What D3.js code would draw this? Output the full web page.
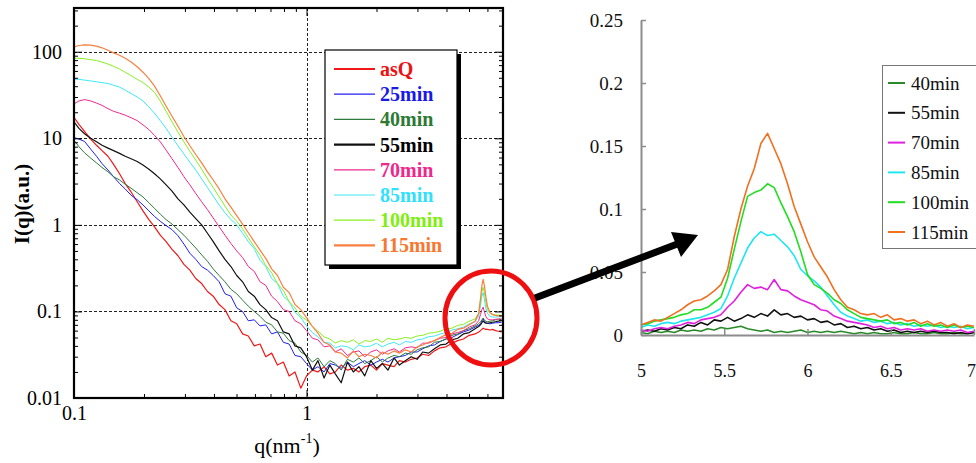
<!DOCTYPE html>
<html><head><meta charset="utf-8">
<script src="https://cdn.jsdelivr.net/npm/d3@7"></script>
<style>
html,body{margin:0;padding:0;background:#fff;} svg{display:block;}
svg text{font-family:"Liberation Serif","DejaVu Serif","Liberation Sans",Arimo,Arial,sans-serif;}
</style>
</head><body>
<svg id="c" width="976" height="463"></svg>
<script>
// ---------- LEFT PANEL DATA (log-log SAXS curves) ----------
const qL = [0.100,0.105,0.111,0.118,0.125,0.132,0.140,0.148,0.157,0.166,0.176,0.187,0.198,0.210,0.222,0.235,0.249,0.264,0.280,0.297,0.315,0.334,0.354,0.375,0.397,0.421,0.446,0.473,0.501,0.531,0.562,0.596,0.631,0.668,0.708,0.750,0.795,0.842,0.892,0.945,
  1.00,1.06,1.12,1.19,1.26,1.33,1.41,1.50,1.59,1.68,1.78,1.89,2.00,2.12,2.24,2.38,2.51,2.66,2.82,2.99,3.16,3.35,3.55,3.76,3.98,4.22,4.47,4.73,5.01,5.31,5.50,5.60,5.68,5.75,5.82,5.90,6.00,6.15,6.31,6.50,6.68,6.90];
const asQ = [17.5,14.5,12,9.8,8.3,7.2,6.2,5.0,3.9,3.0,2.4,1.85,1.45,1.15,0.95,0.76,0.64,0.52,0.44,0.35,0.3,0.24,0.21,0.17,0.15,0.12,0.105,0.078,0.072,0.055,0.052,0.04,0.042,0.03,0.033,0.024,0.026,0.018,0.02,0.013,
  0.018,0.021,0.02,0.023,0.019,0.02,0.024,0.021,0.022,0.02,0.023,0.024,0.021,0.025,0.024,0.023,0.027,0.026,0.028,0.029,0.032,0.031,0.035,0.038,0.039,0.043,0.046,0.048,0.053,0.055,0.058,0.06,0.062,0.064,0.063,0.062,0.062,0.061,0.062,0.06,0.059,0.058];
const m25 = [10.2,9.8,9.2,7.5,6.2,5.1,4.3,3.6,3.0,2.6,2.2,1.95,1.7,1.45,1.25,1.1,0.98,0.88,0.75,0.6,0.47,0.4,0.33,0.3,0.26,0.22,0.16,0.15,0.11,0.1,0.078,0.08,0.068,0.07,0.055,0.058,0.044,0.042,0.031,0.03,
  0.025,0.021,0.023,0.02,0.025,0.024,0.022,0.026,0.023,0.025,0.027,0.024,0.026,0.028,0.026,0.029,0.03,0.031,0.034,0.034,0.037,0.04,0.041,0.045,0.048,0.05,0.054,0.058,0.061,0.066,0.069,0.072,0.078,0.082,0.078,0.074,0.073,0.072,0.073,0.074,0.074,0.075];
const m40 = [9.5,8.0,6.8,5.9,5.2,4.6,4.1,3.6,3.3,2.95,2.65,2.35,2.1,1.8,1.55,1.33,1.15,1.02,0.88,0.76,0.64,0.54,0.45,0.38,0.31,0.26,0.22,0.18,0.16,0.135,0.115,0.1,0.088,0.075,0.07,0.058,0.056,0.046,0.043,0.034,
  0.031,0.026,0.029,0.023,0.027,0.025,0.021,0.028,0.026,0.029,0.025,0.027,0.03,0.026,0.029,0.031,0.03,0.033,0.032,0.036,0.038,0.039,0.044,0.045,0.048,0.053,0.055,0.06,0.063,0.068,0.072,0.076,0.08,0.084,0.08,0.077,0.076,0.077,0.078,0.08,0.08,0.081];
const m55 = [15.5,13,11.3,10,9.1,8.3,7.7,7.2,6.7,6.2,5.8,5.4,4.9,4.4,3.9,3.4,2.9,2.45,2.0,1.7,1.4,1.18,1.0,0.8,0.64,0.5,0.4,0.33,0.26,0.22,0.17,0.15,0.12,0.105,0.085,0.078,0.058,0.055,0.04,0.038,
  0.03,0.021,0.027,0.017,0.024,0.019,0.015,0.026,0.02,0.023,0.018,0.027,0.022,0.025,0.021,0.029,0.024,0.027,0.03,0.028,0.034,0.033,0.037,0.041,0.042,0.047,0.049,0.055,0.057,0.063,0.067,0.07,0.074,0.078,0.075,0.073,0.073,0.074,0.075,0.076,0.077,0.078];
const m70 = [25,27,28,27,25.5,24,22,20.5,19.5,18.5,17.3,16,14.3,12.6,10.8,9.1,7.3,5.8,4.6,3.6,2.9,2.3,1.85,1.5,1.2,0.95,0.76,0.61,0.5,0.42,0.33,0.29,0.22,0.2,0.15,0.13,0.105,0.1,0.078,0.072,
  0.06,0.049,0.047,0.039,0.04,0.034,0.037,0.031,0.034,0.035,0.03,0.034,0.036,0.032,0.035,0.037,0.034,0.038,0.039,0.038,0.043,0.043,0.046,0.049,0.05,0.055,0.057,0.06,0.066,0.07,0.078,0.092,0.105,0.112,0.1,0.088,0.082,0.08,0.08,0.081,0.082,0.082];
const m85 = [48,48,47,46,45,44,43,41,39,36,33,30,27,23,19.5,16,13,10.3,8.2,6.6,5.3,4.3,3.4,2.7,2.15,1.7,1.38,1.15,1.0,0.8,0.64,0.53,0.39,0.33,0.24,0.21,0.15,0.13,0.098,0.085,
  0.068,0.057,0.051,0.044,0.043,0.038,0.04,0.039,0.036,0.041,0.039,0.04,0.043,0.039,0.042,0.044,0.041,0.045,0.044,0.047,0.048,0.051,0.052,0.055,0.057,0.061,0.063,0.066,0.072,0.076,0.088,0.115,0.15,0.165,0.14,0.11,0.095,0.088,0.086,0.086,0.087,0.087];
const m100 = [84,84,83,81,79,76,72,68,63,58,53,48,44,39,34,27,20.5,15.5,11.8,9.1,7.1,5.6,4.4,3.4,2.7,2.1,1.65,1.3,1.1,0.9,0.71,0.56,0.45,0.34,0.28,0.21,0.175,0.13,0.11,0.088,
  0.08,0.067,0.059,0.051,0.048,0.043,0.046,0.044,0.047,0.042,0.046,0.045,0.048,0.044,0.049,0.047,0.048,0.05,0.049,0.052,0.053,0.056,0.057,0.059,0.063,0.064,0.069,0.071,0.077,0.082,0.095,0.13,0.17,0.19,0.165,0.13,0.105,0.095,0.092,0.091,0.091,0.09];
const m115 = [114,118,120,119,116,111,104,97,91,84,76,67,58,49,40,31,23.5,18,13.8,10.5,8.2,6.5,5.2,4.1,3.3,2.6,2.0,1.6,1.28,1.02,0.81,0.64,0.51,0.41,0.31,0.26,0.19,0.165,0.12,0.105,
  0.085,0.067,0.056,0.044,0.041,0.034,0.033,0.029,0.035,0.03,0.032,0.031,0.029,0.034,0.032,0.035,0.033,0.036,0.034,0.039,0.041,0.044,0.046,0.05,0.054,0.056,0.062,0.064,0.07,0.077,0.095,0.14,0.2,0.235,0.2,0.15,0.115,0.097,0.092,0.09,0.089,0.088];
const namesL = ["asQ","25min","40min","55min","70min","85min","100min","115min"];
const xTickValsL = [0.1, 1];
const xTickLabsL = ["0.1", "1"];
const yTickValsL = [0.01, 0.1, 1, 10, 100];
const yTickLabsL = ["0.01", "0.1", "1", "10", "100"];

// ---------- RIGHT PANEL DATA (linear zoom on the peak) ----------
const qR = [5.00,5.04,5.08,5.12,5.16,5.20,5.24,5.28,5.32,5.36,5.40,5.44,5.48,5.52,5.56,5.60,5.64,5.68,5.72,5.76,5.80,5.84,5.88,5.92,5.96,6.00,6.04,6.08,6.12,6.16,6.20,6.24,6.28,6.32,6.36,6.40,6.44,6.48,6.52,6.56,6.60,6.64,6.68,6.72,6.76,6.80,6.84,6.88,6.92,6.96,7.00];
const r40 = [.002,.001,.003,.002,.003,.002,.004,.003,.004,.003,.005,.004,.006,.005,.006,.007,.005,.004,.003,.004,.002,.003,.002,.003,.004,.002,.003,.002,.003,.002,.003,.002,.001,.002,.001,.002,.001,.001,.002,.001,.001,.002,.001,.001,.002,.001,.001,.002,.001,.001,.002];
const r55 = [.003,.004,.003,.005,.004,.006,.005,.008,.007,.01,.008,.012,.011,.014,.011,.013,.016,.014,.017,.015,.02,.016,.017,.014,.015,.012,.013,.01,.011,.008,.009,.006,.007,.005,.006,.004,.005,.003,.004,.002,.003,.002,.003,.002,.003,.002,.002,.001,.002,.001,.002];
const r70 = [.004,.003,.005,.006,.005,.007,.008,.01,.009,.012,.013,.014,.016,.022,.027,.034,.04,.037,.038,.036,.044,.036,.035,.031,.028,.026,.024,.02,.019,.015,.013,.011,.01,.009,.008,.006,.007,.005,.006,.004,.005,.004,.005,.003,.004,.003,.004,.003,.004,.002,.003];
const r85 = [.006,.008,.007,.009,.01,.009,.011,.012,.013,.014,.016,.018,.021,.031,.045,.057,.069,.077,.082,.079,.08,.075,.07,.063,.052,.047,.043,.038,.031,.024,.018,.015,.013,.011,.012,.01,.011,.009,.01,.008,.009,.007,.008,.007,.008,.006,.007,.006,.007,.005,.006];
const r100 = [.008,.009,.011,.012,.013,.014,.016,.017,.02,.02,.022,.026,.03,.045,.068,.09,.11,.113,.115,.12,.117,.105,.094,.082,.066,.048,.04,.037,.033,.028,.025,.02,.017,.014,.013,.012,.011,.012,.009,.01,.008,.01,.007,.009,.007,.008,.006,.008,.006,.007,.006];
const r115 = [.008,.01,.012,.011,.014,.017,.02,.024,.027,.028,.031,.035,.04,.052,.078,.1,.118,.132,.152,.16,.148,.136,.12,.102,.088,.074,.062,.054,.046,.036,.028,.022,.02,.017,.016,.017,.014,.016,.012,.013,.011,.012,.009,.011,.008,.01,.007,.009,.006,.008,.007];
const namesR = ["40min","55min","70min","85min","100min","115min"];
const xTickValsR = [5, 5.5, 6, 6.5, 7];
const xTickLabsR = ["5", "5.5", "6", "6.5", "7"];
const yTickValsR = [0, 0.05, 0.1, 0.15, 0.2, 0.25];
const yTickLabsR = ["0", "0.05", "0.1", "0.15", "0.2", "0.25"];

// ---------- STYLES ----------
const FONT = '"Liberation Serif","DejaVu Serif","Liberation Sans",Arimo,Arial,sans-serif';
const seriesL = [
  {name:namesL[0], v:asQ,  c:"#f01818", t:"#ee1111", w:1.2, lw:2.2},
  {name:namesL[1], v:m25,  c:"#2020f0", t:"#1a1ae8", w:1,   lw:1.2},
  {name:namesL[2], v:m40,  c:"#2e7a3c", t:"#2e7a34", w:1,   lw:1.2},
  {name:namesL[3], v:m55,  c:"#111111", t:"#000000", w:1.2, lw:2.2},
  {name:namesL[4], v:m70,  c:"#f0288c", t:"#f0288c", w:1,   lw:1.2},
  {name:namesL[5], v:m85,  c:"#40e8f8", t:"#30e0ff", w:1,   lw:1.2},
  {name:namesL[6], v:m100, c:"#88f020", t:"#80ee10", w:1,   lw:1.2},
  {name:namesL[7], v:m115, c:"#f88040", t:"#f87830", w:1.2, lw:2.2}
];
const seriesR = [
  {name:namesR[0], v:r40,  c:"#2a8a2a"},
  {name:namesR[1], v:r55,  c:"#111111"},
  {name:namesR[2], v:r70,  c:"#e020e0"},
  {name:namesR[3], v:r85,  c:"#20e6f0"},
  {name:namesR[4], v:r100, c:"#22dd22"},
  {name:namesR[5], v:r115, c:"#f07020"}
];

const svg = d3.select("#c");
svg.append("rect").attr("width",976).attr("height",463).attr("fill","#fff");

// ================= LEFT PANEL =================
const L = {x0:74, x1:503, y0:8, y1:398};
const xL = d3.scaleLog().domain([0.1, 7]).range([L.x0, L.x1]);
const yL = d3.scaleLog().domain([0.01, 320]).range([L.y1, L.y0]);
const defs = svg.append("defs");
defs.append("clipPath").attr("id","clipL").append("rect")
  .attr("x",L.x0).attr("y",L.y0).attr("width",L.x1-L.x0).attr("height",L.y1-L.y0);

const gGrid = svg.append("g").attr("stroke","#222").attr("stroke-width",1).attr("stroke-dasharray","3,2");
[0.1,1,10,100].forEach(v => {
  const y = Math.round(yL(v)) + 0.5;
  gGrid.append("line").attr("x1",L.x0).attr("x2",L.x1).attr("y1",y).attr("y2",y);
});
{ const x = Math.round(xL(1)) + 0.5;
  gGrid.append("line").attr("x1",x).attr("x2",x).attr("y1",L.y0).attr("y2",L.y1); }

const lineL = d3.line().x((d,i) => xL(qL[i])).y(d => yL(d));
const gCurves = svg.append("g").attr("clip-path","url(#clipL)");
seriesL.forEach(s => {
  gCurves.append("path").attr("d", lineL(s.v)).attr("fill","none")
    .attr("stroke", s.c).attr("stroke-width", s.w).attr("stroke-linejoin","round");
});

const minorX = [0.2,0.3,0.4,0.5,0.6,0.7,0.8,0.9,2,3,4,5,6];
const minorY = [];
[0.01,0.1,1,10,100].forEach(d => { for (let k=2;k<=9;k++){ if (d*k<=320) minorY.push(d*k);} });
function styleAxis(g){
  g.attr("font-family",null);
  g.select(".domain").remove();
  g.selectAll("line").attr("stroke","#000").attr("stroke-width",1);
  g.selectAll("text").style("font-family",FONT).attr("fill","#000");
}
svg.append("g").attr("transform",`translate(0,${L.y1})`)
  .call(d3.axisBottom(xL).tickValues(xTickValsL).tickFormat((d,i)=>xTickLabsL[i]).tickSizeInner(-8).tickSizeOuter(0).tickPadding(8))
  .call(styleAxis).call(g=>g.selectAll("text").attr("font-size",20));
svg.append("g").attr("transform",`translate(0,${L.y1})`)
  .call(d3.axisBottom(xL).tickValues(minorX).tickFormat("").tickSizeInner(-4).tickSizeOuter(0)).call(styleAxis);
svg.append("g").attr("transform",`translate(0,${L.y0})`)
  .call(d3.axisTop(xL).tickValues([1]).tickFormat("").tickSizeInner(-8).tickSizeOuter(0)).call(styleAxis);
svg.append("g").attr("transform",`translate(0,${L.y0})`)
  .call(d3.axisTop(xL).tickValues(minorX).tickFormat("").tickSizeInner(-4).tickSizeOuter(0)).call(styleAxis);
svg.append("g").attr("transform",`translate(${L.x0},0)`)
  .call(d3.axisLeft(yL).tickValues(yTickValsL).tickFormat((d,i)=>yTickLabsL[i]).tickSizeInner(-8).tickSizeOuter(0).tickPadding(12))
  .call(styleAxis).call(g=>g.selectAll("text").attr("font-size",20));
svg.append("g").attr("transform",`translate(${L.x0},0)`)
  .call(d3.axisLeft(yL).tickValues(minorY).tickFormat("").tickSizeInner(-4).tickSizeOuter(0)).call(styleAxis);
svg.append("g").attr("transform",`translate(${L.x1},0)`)
  .call(d3.axisRight(yL).tickValues(yTickValsL).tickFormat("").tickSizeInner(-8).tickSizeOuter(0)).call(styleAxis);
svg.append("g").attr("transform",`translate(${L.x1},0)`)
  .call(d3.axisRight(yL).tickValues(minorY).tickFormat("").tickSizeInner(-4).tickSizeOuter(0)).call(styleAxis);

svg.append("rect").attr("x",L.x0).attr("y",L.y0).attr("width",L.x1-L.x0).attr("height",L.y1-L.y0)
  .attr("fill","none").attr("stroke","#000").attr("stroke-width",2.2);

const xt = svg.append("text").attr("x",287).attr("y",453).attr("text-anchor","middle")
  .style("font-family",FONT).attr("font-size",22).attr("fill","#000");
xt.append("tspan").text("q(nm");
xt.append("tspan").attr("font-size",14).attr("dy",-10).text("-1");
xt.append("tspan").attr("dy",10).text(")");
svg.append("text").attr("transform","translate(29,204) rotate(-90)").attr("text-anchor","middle")
  .style("font-family",FONT).attr("font-size",21).attr("font-weight","bold").attr("fill","#000").text("I(q)(a.u.)");

const LG = {x:325, y:50, w:132, h:215, row0:69, dy:25.2};
svg.append("rect").attr("x",LG.x+4).attr("y",LG.y+4).attr("width",LG.w).attr("height",LG.h).attr("fill","#000");
svg.append("rect").attr("x",LG.x).attr("y",LG.y).attr("width",LG.w).attr("height",LG.h)
  .attr("fill","#fff").attr("stroke","#000").attr("stroke-width",1.2);
seriesL.forEach((s,i) => {
  const y = LG.row0 + i*LG.dy;
  svg.append("line").attr("x1",334).attr("x2",375).attr("y1",y).attr("y2",y).attr("stroke",s.c).attr("stroke-width",s.lw);
  svg.append("text").attr("x",380).attr("y",y+7).style("font-family",FONT).attr("font-size",20)
    .attr("font-weight","bold").attr("fill",s.t).text(s.name);
});

// ================= RIGHT PANEL =================
const R = {x0:641, x1:974, y0:20, y1:335};
const xR = d3.scaleLinear().domain([5,7]).range([R.x0, R.x1]);
const yR = d3.scaleLinear().domain([0,0.25]).range([R.y1, R.y0]);
const lineR = d3.line().x((d,i)=>xR(qR[i])).y(d=>yR(d));
seriesR.forEach(s => {
  svg.append("path").attr("d", lineR(s.v)).attr("fill","none").attr("stroke",s.c)
    .attr("stroke-width",1.6).attr("stroke-linejoin","round");
});
function styleR(g){
  g.attr("font-family",null);
  g.select(".domain").attr("stroke","#8c8c8c").attr("stroke-width",2);
  g.selectAll("line").attr("stroke","#8c8c8c").attr("stroke-width",1.5);
  g.selectAll("text").style("font-family",FONT).attr("fill","#111");
}
svg.append("g").attr("transform",`translate(${R.x0},0)`)
  .call(d3.axisLeft(yR).tickValues(yTickValsR).tickFormat((d,i)=>yTickLabsR[i]).tickSizeInner(-5).tickSizeOuter(0).tickPadding(18))
  .call(styleR).call(g=>g.selectAll("text").attr("font-size",19));
svg.append("g").attr("transform",`translate(0,${R.y1})`)
  .call(d3.axisBottom(xR).tickValues(xTickValsR).tickFormat((d,i)=>xTickLabsR[i]).tickSizeInner(-6).tickSizeOuter(0).tickPadding(29))
  .call(styleR).call(g=>g.selectAll("text").attr("font-size",18).attr("dx",(d,i)=> i===xTickValsR.length-1 ? -3 : 0));

svg.append("rect").attr("x",882.5).attr("y",65.5).attr("width",110).attr("height",183)
  .attr("fill","#fff").attr("stroke","#777").attr("stroke-width",1);
seriesR.forEach((s,i) => {
  const y = 83 + i*29.8;
  svg.append("line").attr("x1",888).attr("x2",905).attr("y1",y).attr("y2",y).attr("stroke",s.c).attr("stroke-width",2);
  svg.append("text").attr("x",911).attr("y",y+6.5).style("font-family",FONT).attr("font-size",19)
    .attr("fill","#111").text(s.name);
});

// ================= ANNOTATIONS =================
svg.append("ellipse").attr("cx",491).attr("cy",318).attr("rx",46).attr("ry",47)
  .attr("fill","none").attr("stroke","#ee1010").attr("stroke-width",5);
svg.append("line").attr("x1",535).attr("y1",298).attr("x2",680).attr("y2",243)
  .attr("stroke","#000").attr("stroke-width",7);
svg.append("polygon").attr("points","698,235 671,232 681,257").attr("fill","#000");
</script>
</body></html>
